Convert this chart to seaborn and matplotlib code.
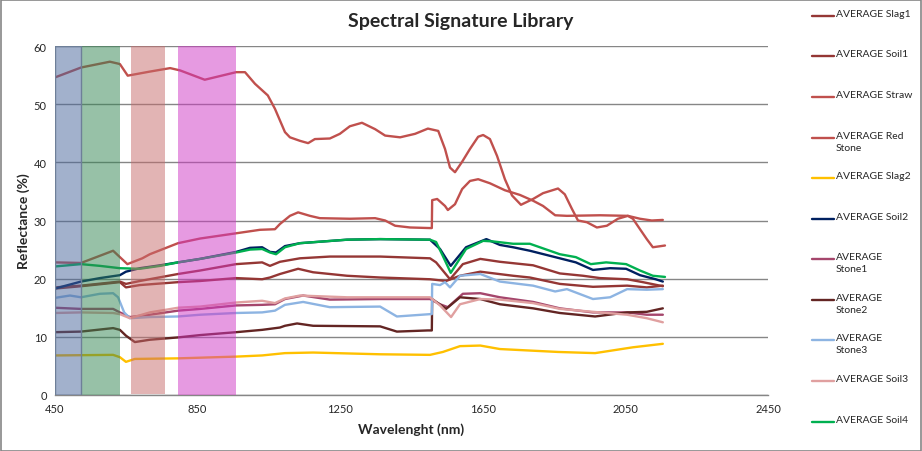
import matplotlib
matplotlib.use("Agg")
import matplotlib.pyplot as plt
from matplotlib.lines import Line2D
from matplotlib.patches import Rectangle
import seaborn as sns
import pandas as pd

# ---------------- data ----------------
series_names = ["AVERAGE Slag1", "AVERAGE Soil1", "AVERAGE Straw", "AVERAGE Red Stone",
                "AVERAGE Slag2", "AVERAGE Soil2", "AVERAGE Stone1", "AVERAGE Stone2",
                "AVERAGE Stone3", "AVERAGE Soil3", "AVERAGE Soil4"]
legend_labels = ["AVERAGE Slag1", "AVERAGE Soil1", "AVERAGE Straw", "AVERAGE Red\nStone",
                 "AVERAGE Slag2", "AVERAGE Soil2", "AVERAGE\nStone1", "AVERAGE\nStone2",
                 "AVERAGE\nStone3", "AVERAGE Soil3", "AVERAGE Soil4"]
series_colors = ["#953735", "#943634", "#c0504d", "#c0504d", "#ffc000", "#002060",
                 "#a5466c", "#632523", "#8db4e2", "#e0a0a0", "#00b050"]

slag1_wl = [450, 523, 632, 649, 688, 795, 857, 958, 1031, 1053, 1081, 1137, 1221, 1362, 1502,
            1519, 1558, 1594, 1643, 1698, 1791, 1866, 1931, 1979, 2055, 2099, 2155]
slag1_r = [18.5, 18.8, 19.5, 19.1, 19.6, 20.8, 21.4, 22.5, 22.8, 22.2, 22.9, 23.5, 23.8, 23.8, 23.5,
           22.8, 19.9, 22.5, 23.4, 22.9, 22.3, 20.9, 20.5, 20.1, 19.9, 19.4, 18.7]

soil1_wl = [450, 523, 632, 649, 688, 795, 857, 958, 1031, 1053, 1081, 1132, 1174, 1269, 1362, 1502,
            1547, 1586, 1643, 1735, 1782, 1866, 1959, 2055, 2110, 2155]
soil1_r = [18.3, 18.7, 19.4, 18.5, 18.9, 19.4, 19.6, 20.1, 19.9, 20.2, 20.8, 21.7, 21.1, 20.5, 20.2, 19.9,
           19.6, 20.5, 21.2, 20.5, 20.2, 19.1, 18.6, 18.8, 18.5, 18.8]

straw_wl = [450, 523, 604, 632, 654, 716, 773, 801, 870, 958, 983, 1011, 1047, 1067, 1081, 1095,
            1109, 1137, 1160, 1179, 1221, 1249, 1277, 1311, 1348, 1376, 1418, 1460, 1496, 1525,
            1544, 1558, 1572, 1592, 1614, 1637, 1651, 1670, 1690, 1712, 1732, 1757, 1791, 1819,
            1861, 1880, 1900, 1917, 1942, 1970, 1998, 2029, 2057, 2071, 2091, 2110, 2127, 2161]
straw_r = [54.6, 56.3, 57.3, 56.9, 54.9, 55.6, 56.2, 55.8, 54.2, 55.5, 55.5, 53.5, 51.5, 49.2, 47.2, 45.2,
           44.3, 43.7, 43.3, 44.0, 44.1, 44.9, 46.2, 46.8, 45.7, 44.6, 44.3, 44.9, 45.8, 45.4,
           42.3, 39.1, 38.3, 40.1, 42.3, 44.4, 44.7, 44.0, 41.1, 37.1, 34.3, 32.7, 33.7, 34.7,
           35.5, 34.5, 32.0, 30.0, 29.7, 28.8, 29.1, 30.3, 30.8, 30.3, 28.5, 26.8, 25.4, 25.7]

redstone_wl = [450, 523, 613, 653, 695, 716, 795, 857, 958, 1025, 1067, 1081, 1109, 1132, 1165, 1193,
               1277, 1348, 1376, 1404, 1446, 1502, 1507, 1508, 1522, 1544, 1552, 1572, 1592, 1614,
               1637, 1670, 1712, 1754, 1791, 1819, 1853, 1886, 1979, 2057, 2091, 2124, 2155]
redstone_r = [22.8, 22.7, 24.8, 22.5, 23.5, 24.2, 26.1, 26.9, 27.8, 28.4, 28.5, 29.4, 30.8, 31.4, 30.8, 30.4,
              30.3, 30.4, 30.0, 29.1, 28.8, 28.7, 28.7, 33.5, 33.7, 32.5, 31.8, 32.8, 35.4, 36.8,
              37.1, 36.4, 35.2, 34.4, 33.4, 32.5, 30.9, 30.8, 30.9, 30.8, 30.3, 30.0, 30.1]

slag2_wl = [450, 613, 632, 649, 674, 795, 958, 1031, 1095, 1174, 1362, 1502, 1538, 1586, 1643,
            1698, 1861, 1965, 2071, 2155]
slag2_r = [6.8, 6.9, 6.5, 5.7, 6.2, 6.3, 6.6, 6.8, 7.2, 7.3, 7.0, 6.9, 7.4, 8.4, 8.5,
           7.9, 7.4, 7.2, 8.2, 8.8]

soil2_wl = [450, 523, 576, 632, 649, 688, 745, 795, 857, 958, 997, 1031, 1053, 1070, 1095, 1137,
            1269, 1362, 1502, 1530, 1560, 1603, 1660, 1698, 1735, 1782, 1866, 1911, 1959, 2007,
            2052, 2091, 2135, 2155]
soil2_r = [18.3, 19.5, 20.1, 20.6, 21.2, 21.8, 22.3, 22.8, 23.4, 24.6, 25.3, 25.4, 24.6, 24.5, 25.6, 26.1,
           26.7, 26.8, 26.7, 25.1, 22.2, 25.4, 26.8, 25.8, 25.4, 24.8, 23.5, 22.8, 21.5, 21.8,
           21.7, 20.6, 19.9, 19.5]

stone1_wl = [450, 523, 613, 632, 660, 716, 795, 857, 958, 1031, 1067, 1095, 1146, 1221, 1362, 1502,
             1530, 1552, 1594, 1643, 1698, 1791, 1866, 1959, 2055, 2110, 2155]
stone1_r = [15.0, 14.8, 14.8, 14.2, 13.4, 13.8, 14.5, 14.8, 15.4, 15.5, 15.6, 16.5, 17.1, 16.4, 16.5, 16.5,
            15.6, 15.1, 17.4, 17.5, 16.8, 16.0, 14.9, 14.2, 14.2, 13.8, 13.8]

stone2_wl = [450, 523, 613, 632, 649, 674, 716, 795, 857, 958, 1031, 1081, 1095, 1129, 1174, 1362,
             1409, 1496, 1507, 1508, 1547, 1586, 1643, 1698, 1791, 1866, 1965, 2055, 2110, 2155]
stone2_r = [10.8, 10.9, 11.5, 11.2, 10.2, 9.1, 9.5, 9.9, 10.3, 10.8, 11.2, 11.6, 11.9, 12.3, 11.9, 11.8,
            10.9, 11.1, 11.1, 16.5, 14.8, 16.8, 16.5, 15.6, 14.9, 14.1, 13.5, 14.2, 14.3, 14.9]

stone3_wl = [450, 492, 523, 576, 613, 627, 644, 660, 716, 795, 857, 958, 1031, 1067, 1095, 1146,
             1221, 1362, 1409, 1502, 1507, 1508, 1530, 1544, 1558, 1586, 1643, 1698, 1791, 1853,
             1886, 1959, 2007, 2055, 2110, 2155]
stone3_r = [16.7, 17.1, 16.8, 17.4, 17.5, 16.8, 14.2, 13.2, 13.4, 13.5, 13.8, 14.1, 14.2, 14.5, 15.5, 16.0,
            15.1, 15.2, 13.5, 13.9, 13.9, 19.1, 18.9, 19.4, 18.5, 20.5, 20.8, 19.5, 18.8, 17.8,
            18.2, 16.5, 16.8, 18.2, 18.1, 18.2]

soil3_wl = [450, 523, 613, 632, 660, 716, 795, 857, 958, 1031, 1067, 1095, 1137, 1269, 1502, 1530,
            1561, 1586, 1643, 1698, 1791, 1866, 1959, 2055, 2110, 2155]
soil3_r = [14.1, 14.2, 14.1, 13.9, 13.2, 14.2, 15.0, 15.2, 15.9, 16.2, 15.8, 16.6, 17.1, 16.8, 16.8, 15.4,
           13.4, 15.6, 16.5, 16.4, 15.8, 14.8, 14.3, 13.8, 13.2, 12.5]

soil4_wl = [450, 523, 576, 632, 688, 745, 795, 857, 958, 997, 1031, 1053, 1070, 1095, 1137, 1269,
            1362, 1502, 1519, 1538, 1560, 1603, 1651, 1679, 1735, 1782, 1866, 1911, 1953, 1996,
            2052, 2091, 2127, 2161]
soil4_r = [22.1, 22.5, 22.2, 21.8, 21.7, 22.2, 22.8, 23.4, 24.5, 25.0, 25.1, 24.5, 24.2, 25.4, 26.1, 26.7,
           26.8, 26.7, 26.3, 23.9, 21.0, 25.1, 26.5, 26.4, 26.0, 26.0, 24.2, 23.7, 22.5, 22.8,
           22.5, 21.4, 20.5, 20.3]

# shaded spectral bands (nm)
band_starts = [450, 523, 663, 795]
band_ends = [523, 632, 759, 957]
band_colors = ["#47659a", "#318551", "#c76b6b", "#cf37c5"]

x_ticks = [450, 850, 1250, 1650, 2050, 2450]
y_ticks = [0, 10, 20, 30, 40, 50, 60]

# ---------------- build long table ----------------
all_wl = [slag1_wl, soil1_wl, straw_wl, redstone_wl, slag2_wl, soil2_wl, stone1_wl,
          stone2_wl, stone3_wl, soil3_wl, soil4_wl]
all_r = [slag1_r, soil1_r, straw_r, redstone_r, slag2_r, soil2_r, stone1_r,
         stone2_r, stone3_r, soil3_r, soil4_r]
frames = []
for name, wl, r in zip(series_names, all_wl, all_r):
    frames.append(pd.DataFrame({"wavelength": wl, "reflectance": r, "series": name}))
df = pd.concat(frames, ignore_index=True)

# ---------------- figure ----------------
sns.set_theme(style="white")
plt.rcParams["font.family"] = ["Lato", "DejaVu Sans"]

W, H = 922, 452
fig = plt.figure(figsize=(W / 100, H / 100), dpi=100)
ax = fig.add_axes([55 / W, 1 - 396 / H, (768 - 55) / W, (396 - 47) / H])

sns.lineplot(data=df, x="wavelength", y="reflectance", hue="series",
             hue_order=series_names, palette=dict(zip(series_names, series_colors)),
             estimator=None, sort=False, linewidth=1.7, legend=False, ax=ax, zorder=3)

# bands overlay (semi transparent)
for i, (s, e, c) in enumerate(zip(band_starts, band_ends, band_colors)):
    top = 60.2 if i == 2 else 60
    bot = 0.2 if i == 2 else 0
    ax.add_patch(Rectangle((s, bot), e - s, top - bot, facecolor=c, alpha=0.5,
                           edgecolor="none", zorder=4))
# dark outline on first band
ax.add_patch(Rectangle((band_starts[0], 0), band_ends[0] - band_starts[0], 60,
                       facecolor="none", edgecolor="#6e7f98", linewidth=1.0, zorder=5))

ax.set_xlim(450, 2450)
ax.set_ylim(0, 60)
ax.set_xticks(x_ticks)
ax.set_yticks(y_ticks)
ax.set_xticklabels([str(v) for v in x_ticks], fontsize=8)
ax.set_yticklabels([str(v) for v in y_ticks], fontsize=8)
ax.tick_params(axis="both", length=0, pad=6)
ax.yaxis.grid(True, color="#868686", linewidth=1.0, zorder=1)
ax.xaxis.grid(False)
ax.set_axisbelow(True)
for sp in ["top", "right", "left"]:
    ax.spines[sp].set_visible(False)
ax.spines["bottom"].set_color("#868686")
ax.spines["bottom"].set_linewidth(1.0)

ax.set_xlabel("Wavelenght (nm)", fontsize=10, fontweight="bold", labelpad=6)
ax.set_ylabel("Reflectance (%)", fontsize=10, fontweight="bold", labelpad=3)
fig.text(461 / W, 1 - 21 / H, "Spectral Signature Library", ha="center", va="center",
         fontsize=14, fontweight="bold")

# legend drawn manually to match spacing
legend_y = [17, 57, 98, 139, 179, 220, 260, 301, 341, 382, 423]
for lab, col, yy in zip(legend_labels, series_colors, legend_y):
    fig.add_artist(Line2D([812 / W, 834 / W], [1 - yy / H, 1 - yy / H], color=col, linewidth=1.7))
    fig.text(836 / W, 1 - (yy - 7) / H, lab, ha="left", va="top", fontsize=7.5,
             linespacing=1.45)

# chart border
fig.add_artist(Rectangle((0.5 / W, 0.5 / H), 1 - 1.5 / W, 1 - 1.5 / H, transform=fig.transFigure,
                         facecolor="none", edgecolor="#868686", linewidth=1.2))

fig.savefig("out.png", dpi=100)
